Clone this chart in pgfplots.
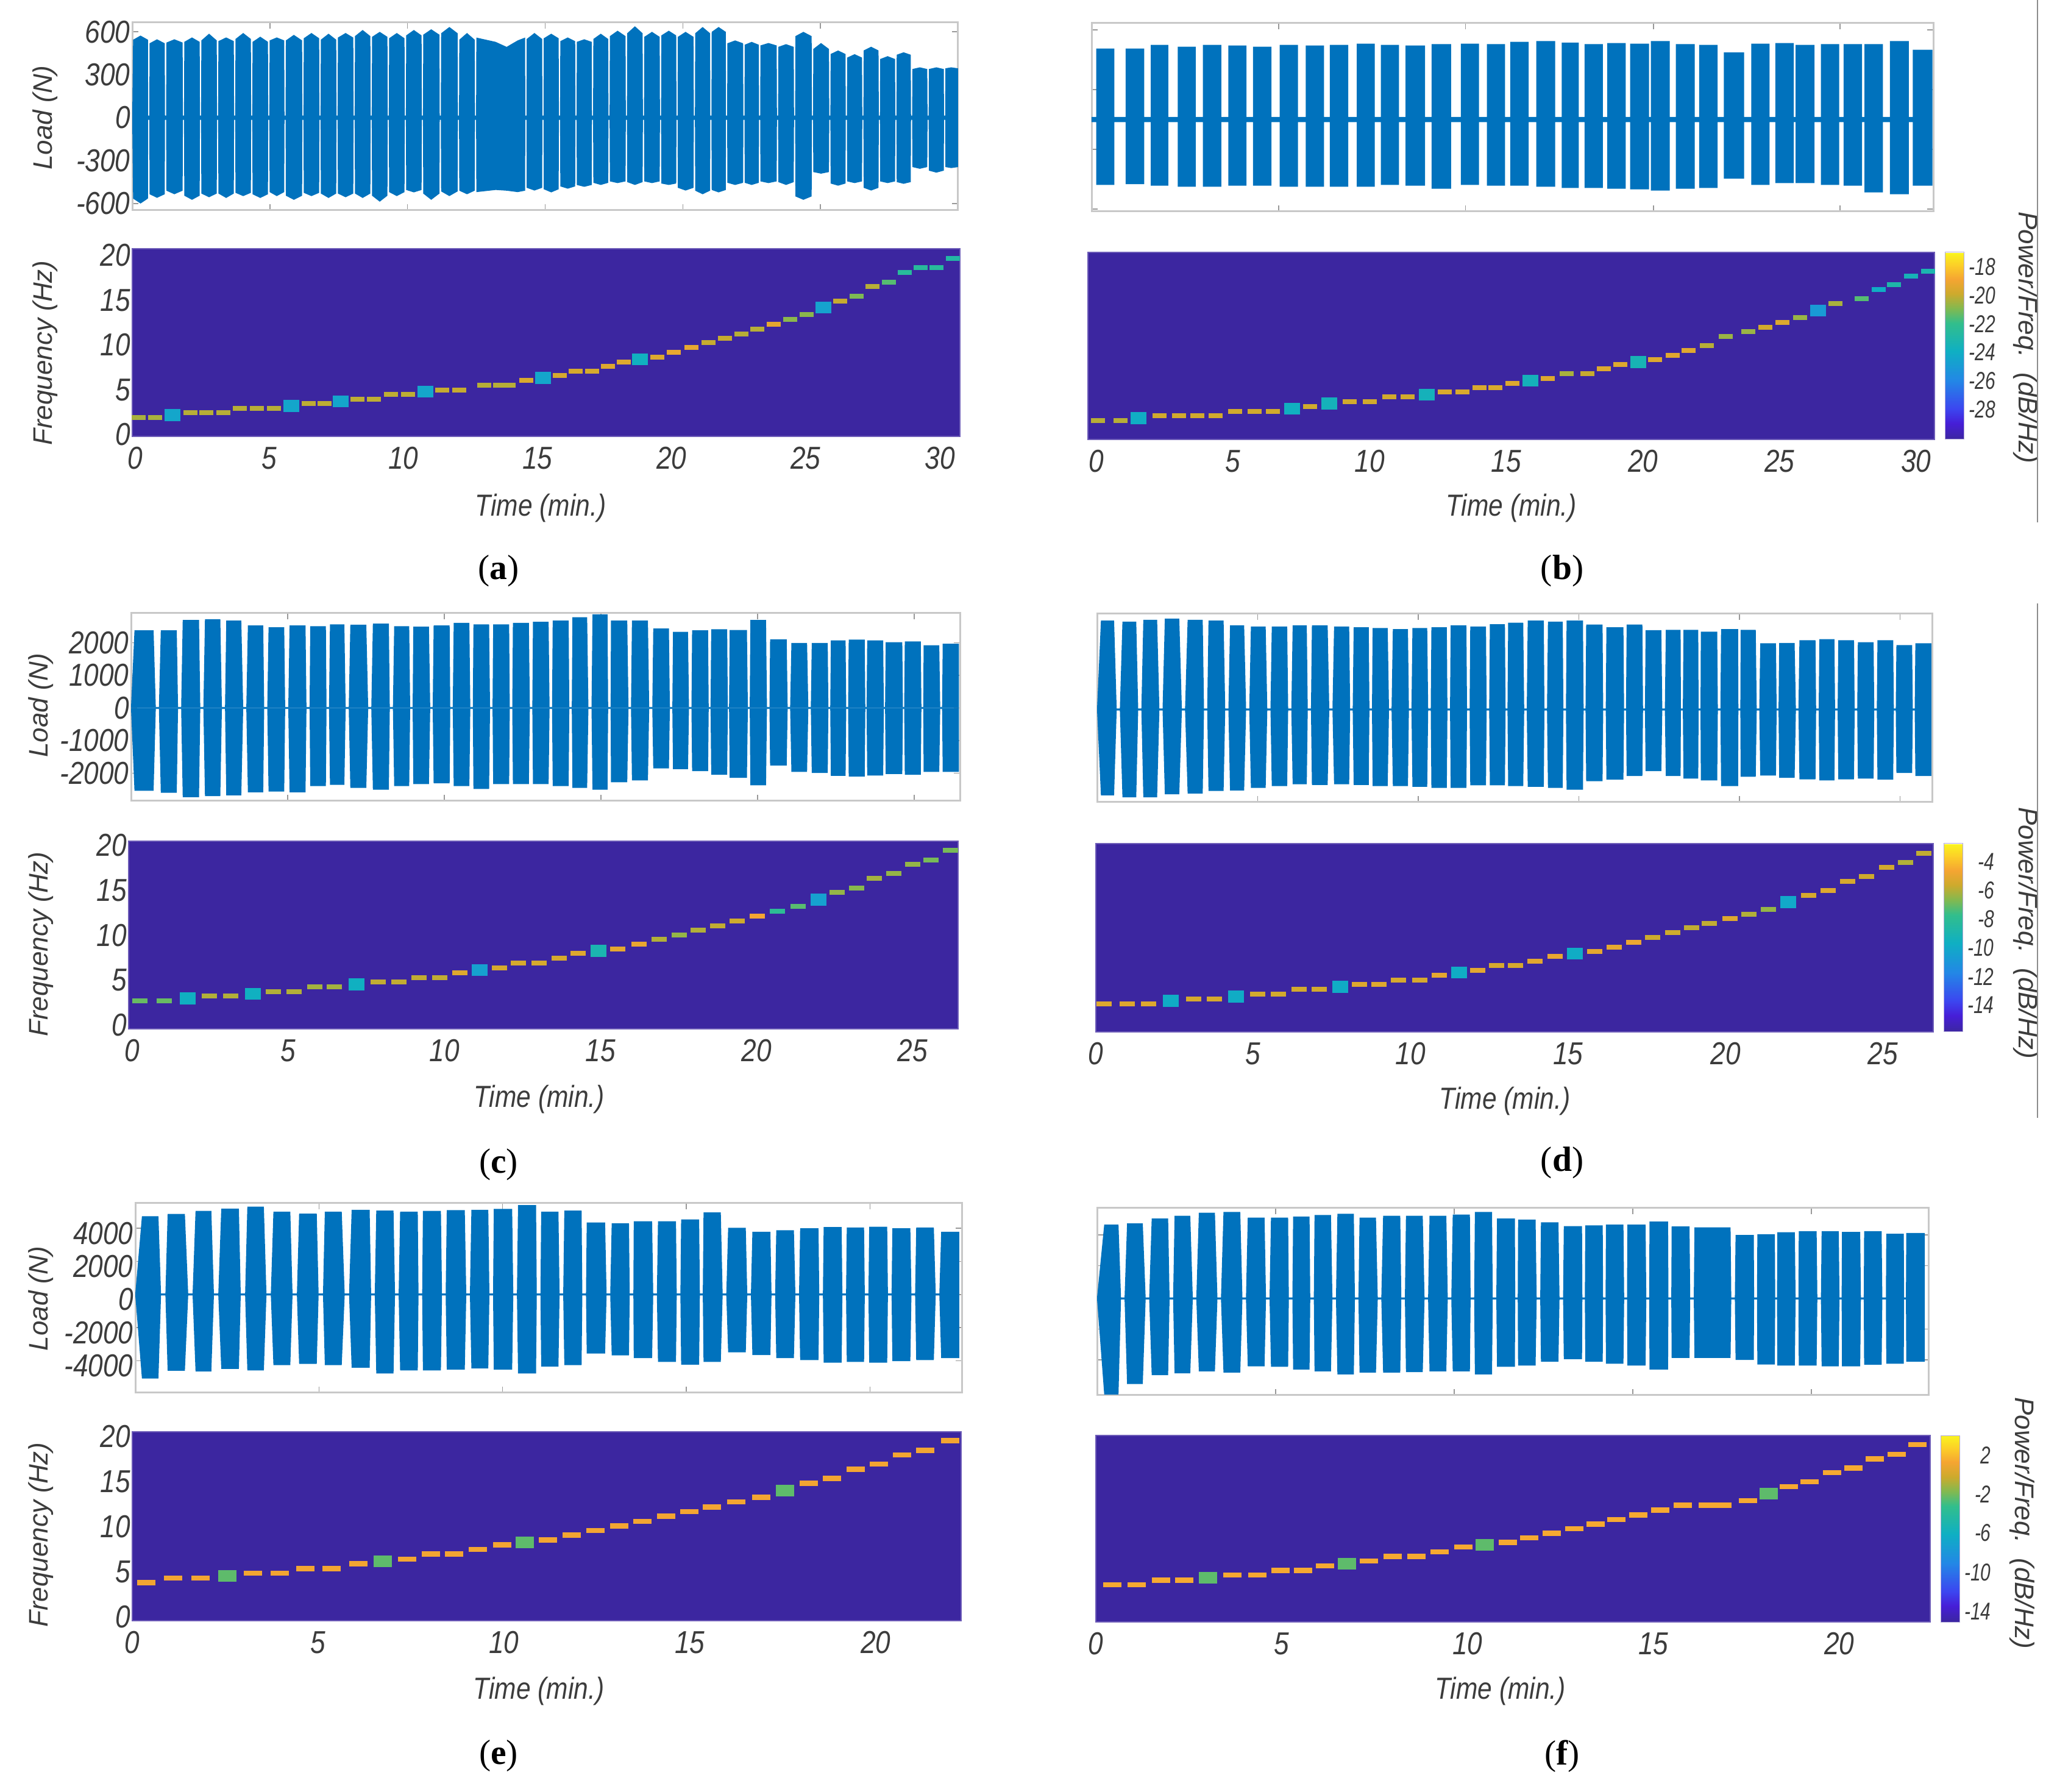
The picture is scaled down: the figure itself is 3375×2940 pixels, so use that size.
\documentclass[border=0pt]{standalone}
\usepackage{fontspec}
\setmainfont{Liberation Sans}
\newfontfamily\capfont{Liberation Serif}
\usepackage{pgfplots}
\usepackage{pgfplotstable}
\pgfplotsset{compat=1.18}
\pgfkeys{/pgf/number format/assume math mode=true,/pgf/number format/1000 sep={}}
\definecolor{sig}{RGB}{0,114,189}
\definecolor{specbg}{RGB}{60,38,160}
\definecolor{frame}{RGB}{200,200,200}
\definecolor{ink}{RGB}{60,60,60}
\newcommand\tickfont{\fontsize{10.4}{12}\selectfont\itshape}
\newcommand\lblfont{\fontsize{8.8}{10}\selectfont\itshape}
\newcommand\timefont{\fontsize{10}{12}\selectfont\itshape}
\newcommand\cbfont{\fontsize{8}{9}\selectfont\itshape}

% load envelopes: t, upper, lower
\pgfplotstableread[row sep=\\]{t hi lo\\
0 15 -15\\0.03 545 -565\\0.30 574 -600\\0.57 545 -565\\0.58 15 -15\\0.62 15 -15\\
0.63 520 -535\\0.90 548 -560\\1.18 520 -535\\1.19 15 -15\\1.23 15 -15\\
1.24 525 -510\\1.53 548 -535\\1.83 525 -510\\1.84 15 -15\\1.88 15 -15\\
1.89 530 -545\\2.17 561 -574\\2.45 530 -545\\2.46 15 -15\\2.50 15 -15\\
2.51 540 -530\\2.79 587 -556\\3.07 540 -530\\3.08 15 -15\\3.12 15 -15\\
3.13 535 -530\\3.41 561 -561\\3.69 535 -530\\3.70 15 -15\\3.74 15 -15\\
3.75 550 -525\\4.03 592 -548\\4.31 550 -525\\4.32 15 -15\\4.36 15 -15\\
4.37 530 -535\\4.65 566 -561\\4.93 530 -535\\4.94 15 -15\\4.98 15 -15\\
4.99 540 -520\\5.25 561 -548\\5.52 540 -520\\5.53 15 -15\\5.57 15 -15\\
5.58 540 -545\\5.87 579 -574\\6.17 540 -545\\6.18 15 -15\\6.22 15 -15\\
6.23 555 -525\\6.51 592 -548\\6.79 555 -525\\6.80 15 -15\\6.84 15 -15\\
6.85 545 -530\\7.13 587 -561\\7.41 545 -530\\7.42 15 -15\\7.46 15 -15\\
7.47 560 -530\\7.75 592 -556\\8.03 560 -530\\8.04 15 -15\\8.08 15 -15\\
8.09 570 -530\\8.37 613 -561\\8.65 570 -530\\8.66 15 -15\\8.70 15 -15\\
8.71 565 -545\\8.99 600 -587\\9.27 565 -545\\9.28 15 -15\\9.32 15 -15\\
9.33 555 -520\\9.61 592 -548\\9.89 555 -520\\9.90 15 -15\\9.94 15 -15\\
9.95 575 -505\\10.23 613 -522\\10.51 575 -505\\10.52 15 -15\\10.56 15 -15\\
10.57 580 -530\\10.86 618 -574\\11.16 580 -530\\11.17 15 -15\\11.21 15 -15\\
11.22 590 -515\\11.52 634 -548\\11.82 590 -515\\11.83 15 -15\\11.87 15 -15\\
11.88 545 -510\\12.16 592 -535\\12.44 545 -510\\12.45 15 -15\\12.49 15 -15\\
12.50 560 -520\\13.2 530 -505\\13.6 495 -510\\14.0 540 -520\\14.27 560 -510\\14.28 15 -15\\14.32 15 -15\\
14.33 550 -490\\14.61 592 -509\\14.89 550 -490\\14.90 15 -15\\14.94 15 -15\\
14.95 555 -500\\15.22 587 -522\\15.49 555 -500\\15.50 15 -15\\15.54 15 -15\\
15.55 535 -480\\15.82 561 -496\\16.09 535 -480\\16.10 15 -15\\16.14 15 -15\\
16.15 530 -470\\16.42 548 -483\\16.69 530 -470\\16.70 15 -15\\16.74 15 -15\\
16.75 550 -455\\17.02 587 -470\\17.29 550 -455\\17.30 15 -15\\17.34 15 -15\\
17.35 570 -445\\17.63 608 -457\\17.92 570 -445\\17.93 15 -15\\17.97 15 -15\\
17.98 590 -450\\18.26 639 -470\\18.54 590 -450\\18.55 15 -15\\18.59 15 -15\\
18.60 565 -445\\18.88 600 -457\\19.16 565 -445\\19.17 15 -15\\19.21 15 -15\\
19.22 575 -460\\19.49 608 -470\\19.76 575 -460\\19.77 15 -15\\19.81 15 -15\\
19.82 565 -490\\20.10 600 -509\\20.39 565 -490\\20.40 15 -15\\20.44 15 -15\\
20.45 590 -510\\20.72 634 -535\\20.99 590 -510\\21.00 15 -15\\21.04 15 -15\\
21.05 600 -505\\21.30 634 -522\\21.56 600 -505\\21.57 15 -15\\21.61 15 -15\\
21.62 520 -455\\21.90 540 -470\\22.19 520 -455\\22.20 15 -15\\22.24 15 -15\\
22.25 510 -455\\22.50 530 -470\\22.76 510 -455\\22.77 15 -15\\22.81 15 -15\\
22.82 505 -445\\23.11 522 -457\\23.41 505 -445\\23.42 15 -15\\23.46 15 -15\\
23.47 495 -450\\23.75 514 -470\\24.03 495 -450\\24.04 15 -15\\24.08 15 -15\\
24.09 570 -550\\24.38 600 -574\\24.68 570 -550\\24.69 15 -15\\24.73 15 -15\\
24.74 480 -380\\25.02 522 -391\\25.31 480 -380\\25.32 15 -15\\25.36 15 -15\\
25.37 445 -460\\25.64 470 -475\\25.91 445 -460\\25.92 15 -15\\25.96 15 -15\\
25.97 420 -445\\26.24 444 -457\\26.51 420 -445\\26.52 15 -15\\26.56 15 -15\\
26.57 470 -490\\26.84 496 -509\\27.11 470 -490\\27.12 15 -15\\27.16 15 -15\\
27.17 410 -445\\27.44 430 -457\\27.71 410 -445\\27.72 15 -15\\27.76 15 -15\\
27.77 440 -450\\28.02 457 -462\\28.28 440 -450\\28.29 15 -15\\28.33 15 -15\\
28.34 340 -345\\28.61 352 -357\\28.88 340 -345\\28.89 15 -15\\28.93 15 -15\\
28.94 340 -370\\29.21 352 -384\\29.48 340 -370\\29.49 15 -15\\29.53 15 -15\\
29.54 345 -345\\29.75 352 -352\\30 345 -345\\
}\loadA

\pgfplotstableread[row sep=\\]{t hi lo\\
0 18 -18\\0.17 18 -18\\0.17 494 -455\\0.83 494 -455\\0.83 18 -18\\1.24 18 -18\\1.24 494 -450\\1.92 494 -450\\1.92 18 -18\\
2.16 18 -18\\2.16 520 -460\\2.80 520 -460\\2.80 18 -18\\3.14 18 -18\\3.14 507 -468\\3.80 507 -468\\3.80 18 -18\\
4.06 18 -18\\4.06 520 -468\\4.73 520 -468\\4.73 18 -18\\4.99 18 -18\\4.99 515 -460\\5.65 515 -460\\5.65 18 -18\\
5.89 18 -18\\5.89 507 -460\\6.56 507 -460\\6.56 18 -18\\6.86 18 -18\\6.86 520 -468\\7.53 520 -468\\7.53 18 -18\\
7.81 18 -18\\7.81 515 -468\\8.48 515 -468\\8.48 18 -18\\8.69 18 -18\\8.69 520 -468\\9.36 520 -468\\9.36 18 -18\\
9.67 18 -18\\9.67 528 -468\\10.33 528 -468\\10.33 18 -18\\10.55 18 -18\\10.55 520 -455\\11.21 520 -455\\11.21 18 -18\\
11.45 18 -18\\11.45 515 -460\\12.16 515 -460\\12.16 18 -18\\12.40 18 -18\\12.40 525 -481\\13.11 525 -481\\13.11 18 -18\\
13.47 18 -18\\13.47 528 -455\\14.13 528 -455\\14.13 18 -18\\14.42 18 -18\\14.42 525 -460\\15.08 525 -460\\15.08 18 -18\\
15.27 18 -18\\15.27 541 -460\\15.94 541 -460\\15.94 18 -18\\16.22 18 -18\\16.22 546 -468\\16.91 546 -468\\16.91 18 -18\\
17.15 18 -18\\17.15 536 -476\\17.77 536 -476\\17.77 18 -18\\17.98 18 -18\\17.98 525 -476\\18.65 525 -476\\18.65 18 -18\\
18.81 18 -18\\18.81 533 -481\\19.48 533 -481\\19.48 18 -18\\19.64 18 -18\\19.64 528 -486\\20.33 528 -486\\20.33 18 -18\\
20.40 18 -18\\20.40 546 -494\\21.09 546 -494\\21.09 18 -18\\21.31 18 -18\\21.31 525 -481\\22.00 525 -481\\22.00 18 -18\\
22.16 18 -18\\22.16 520 -476\\22.83 520 -476\\22.83 18 -18\\23.06 18 -18\\23.06 468 -411\\23.80 468 -411\\23.80 18 -18\\
24.06 18 -18\\24.06 528 -455\\24.73 528 -455\\24.73 18 -18\\24.94 18 -18\\24.94 533 -442\\25.61 533 -442\\25.61 18 -18\\
25.68 18 -18\\25.68 520 -442\\26.37 520 -442\\26.37 18 -18\\26.60 18 -18\\26.60 525 -455\\27.27 525 -455\\27.27 18 -18\\
27.43 18 -18\\27.43 525 -460\\28.10 525 -460\\28.10 18 -18\\28.19 18 -18\\28.19 525 -507\\28.86 525 -507\\28.86 18 -18\\
29.12 18 -18\\29.12 546 -520\\29.81 546 -520\\29.81 18 -18\\29.95 18 -18\\29.95 486 -460\\30.67 486 -460\\
}\loadB

\pgfplotstableread[row sep=\\]{t hi lo\\
0 30 -30\\0.11 2377 -2537\\0.72 2377 -2537\\0.79 30 -30\\0.89 30 -30\\0.95 2377 -2595\\1.46 2377 -2595\\1.50 30 -30\\1.60 30 -30\\
1.65 2697 -2732\\2.17 2697 -2732\\2.21 30 -30\\2.31 30 -30\\2.36 2720 -2697\\2.85 2720 -2697\\2.90 30 -30\\3.00 30 -30\\
3.04 2675 -2675\\3.52 2675 -2675\\3.58 30 -30\\3.68 30 -30\\3.73 2526 -2583\\4.22 2526 -2583\\4.25 30 -30\\4.35 30 -30\\
4.39 2469 -2560\\4.89 2469 -2560\\4.92 30 -30\\5.02 30 -30\\5.06 2526 -2583\\5.57 2526 -2583\\5.60 30 -30\\5.70 30 -30\\
5.72 2503 -2389\\6.22 2503 -2389\\6.24 30 -30\\6.32 30 -30\\6.35 2560 -2355\\6.81 2560 -2355\\6.85 30 -30\\6.95 30 -30\\
7.00 2549 -2446\\7.51 2549 -2446\\7.57 30 -30\\7.67 30 -30\\7.72 2583 -2503\\8.23 2583 -2503\\8.26 30 -30\\8.36 30 -30\\
8.40 2503 -2389\\8.88 2503 -2389\\8.91 30 -30\\8.99 30 -30\\9.01 2492 -2332\\9.51 2492 -2332\\9.55 30 -30\\9.63 30 -30\\
9.66 2526 -2309\\10.17 2526 -2309\\10.19 30 -30\\10.27 30 -30\\10.30 2606 -2389\\10.80 2606 -2389\\10.83 30 -30\\10.91 30 -30\\
10.93 2560 -2480\\11.43 2560 -2480\\11.46 30 -30\\11.54 30 -30\\11.56 2560 -2332\\12.07 2560 -2332\\12.09 30 -30\\12.17 30 -30\\
12.19 2606 -2332\\12.70 2606 -2332\\12.73 30 -30\\12.81 30 -30\\12.83 2640 -2332\\13.33 2640 -2332\\13.36 30 -30\\13.44 30 -30\\
13.46 2675 -2389\\13.97 2675 -2389\\13.99 30 -30\\14.07 30 -30\\14.09 2777 -2446\\14.56 2777 -2446\\14.60 30 -30\\14.70 30 -30\\
14.73 2869 -2503\\15.21 2869 -2503\\15.23 30 -30\\15.31 30 -30\\15.32 2675 -2275\\15.84 2675 -2275\\15.88 30 -30\\15.96 30 -30\\
15.99 2675 -2217\\16.50 2675 -2217\\16.54 30 -30\\16.64 30 -30\\16.67 2435 -1852\\17.17 2435 -1852\\17.20 30 -30\\17.28 30 -30\\
17.30 2332 -1875\\17.78 2332 -1875\\17.81 30 -30\\17.89 30 -30\\17.91 2377 -1932\\18.42 2377 -1932\\18.44 30 -30\\18.50 30 -30\\
18.52 2412 -2046\\19.03 2412 -2046\\19.05 30 -30\\19.09 30 -30\\19.11 2389 -2137\\19.66 2389 -2137\\19.69 30 -30\\19.75 30 -30\\
19.77 2697 -2366\\20.27 2697 -2366\\20.30 30 -30\\20.38 30 -30\\20.40 2103 -1760\\20.93 2103 -1760\\20.96 30 -30\\21.04 30 -30\\
21.08 1989 -1955\\21.58 1989 -1955\\21.62 30 -30\\21.70 30 -30\\21.73 1989 -1989\\22.24 1989 -1989\\22.26 30 -30\\22.32 30 -30\\
22.34 2069 -2080\\22.81 2069 -2080\\22.83 30 -30\\22.89 30 -30\\22.91 2092 -2103\\23.42 2092 -2103\\23.44 30 -30\\23.48 30 -30\\
23.50 2069 -2069\\24.01 2069 -2069\\24.03 30 -30\\24.07 30 -30\\24.09 2012 -2023\\24.62 2012 -2023\\24.64 30 -30\\24.68 30 -30\\
24.70 2035 -2046\\25.21 2035 -2046\\25.23 30 -30\\25.29 30 -30\\25.30 1920 -1955\\25.80 1920 -1955\\25.83 30 -30\\25.89 30 -30\\
25.91 1966 -1955\\26.43 1966 -1955\\
}\loadC

\pgfplotstableread[row sep=\\]{t hi lo\\
0 30 -30\\0.12 2720 -2629\\0.53 2720 -2629\\0.61 30 -30\\0.71 30 -30\\0.79 2686 -2686\\1.22 2686 -2686\\1.28 30 -30\\1.38 30 -30\\
1.44 2743 -2686\\1.87 2743 -2686\\1.94 30 -30\\2.04 30 -30\\2.11 2777 -2595\\2.56 2777 -2595\\2.64 30 -30\\2.74 30 -30\\
2.82 2743 -2572\\3.29 2743 -2572\\3.33 30 -30\\3.43 30 -30\\3.47 2720 -2492\\3.94 2720 -2492\\3.99 30 -30\\4.09 30 -30\\
4.14 2572 -2480\\4.58 2572 -2480\\4.64 30 -30\\4.74 30 -30\\4.79 2537 -2400\\5.25 2537 -2400\\5.30 30 -30\\5.40 30 -30\\
5.44 2537 -2343\\5.92 2537 -2343\\5.95 30 -30\\6.05 30 -30\\6.09 2572 -2286\\6.53 2572 -2286\\6.56 30 -30\\6.66 30 -30\\
6.69 2572 -2309\\7.18 2572 -2309\\7.23 30 -30\\7.33 30 -30\\7.38 2537 -2286\\7.85 2537 -2286\\7.88 30 -30\\7.96 30 -30\\
7.99 2515 -2309\\8.46 2515 -2309\\8.48 30 -30\\8.56 30 -30\\8.58 2492 -2343\\9.05 2492 -2343\\9.09 30 -30\\9.17 30 -30\\
9.21 2457 -2343\\9.68 2457 -2343\\9.71 30 -30\\9.79 30 -30\\9.82 2492 -2366\\10.28 2492 -2366\\10.31 30 -30\\10.39 30 -30\\
10.41 2515 -2400\\10.89 2515 -2400\\10.91 30 -30\\10.99 30 -30\\11.01 2572 -2400\\11.50 2572 -2400\\11.52 30 -30\\11.60 30 -30\\
11.62 2537 -2320\\12.11 2537 -2320\\12.13 30 -30\\12.21 30 -30\\12.23 2606 -2320\\12.70 2606 -2320\\12.72 30 -30\\12.78 30 -30\\
12.80 2652 -2343\\13.27 2652 -2343\\13.30 30 -30\\13.38 30 -30\\13.41 2720 -2366\\13.91 2720 -2366\\13.93 30 -30\\14.01 30 -30\\
14.04 2686 -2400\\14.50 2686 -2400\\14.52 30 -30\\14.60 30 -30\\14.62 2720 -2457\\15.13 2720 -2457\\15.15 30 -30\\15.21 30 -30\\
15.23 2595 -2195\\15.74 2595 -2195\\15.76 30 -30\\15.84 30 -30\\15.86 2515 -2149\\16.39 2515 -2149\\16.41 30 -30\\16.47 30 -30\\
16.49 2595 -2035\\16.98 2595 -2035\\17.00 30 -30\\17.06 30 -30\\17.08 2423 -1886\\17.57 2423 -1886\\17.60 30 -30\\17.68 30 -30\\
17.71 2435 -2035\\18.17 2435 -2035\\18.18 30 -30\\18.24 30 -30\\18.26 2435 -2115\\18.72 2435 -2115\\18.73 30 -30\\18.79 30 -30\\
18.80 2377 -2172\\19.31 2377 -2172\\19.33 30 -30\\19.41 30 -30\\19.43 2457 -2343\\19.96 2457 -2343\\19.97 30 -30\\20.03 30 -30\\
20.04 2435 -2057\\20.51 2435 -2057\\20.54 30 -30\\20.62 30 -30\\20.65 2023 -2023\\21.14 2023 -2023\\21.16 30 -30\\21.22 30 -30\\
21.24 2035 -2092\\21.72 2035 -2092\\21.76 30 -30\\21.84 30 -30\\21.87 2115 -2137\\22.37 2115 -2137\\22.39 30 -30\\22.47 30 -30\\
22.49 2149 -2172\\22.96 2149 -2172\\22.98 30 -30\\23.06 30 -30\\23.08 2115 -2137\\23.57 2115 -2137\\23.59 30 -30\\23.67 30 -30\\
23.69 2057 -2115\\24.18 2057 -2115\\24.20 30 -30\\24.28 30 -30\\24.30 2115 -2149\\24.79 2115 -2149\\24.81 30 -30\\24.87 30 -30\\
24.89 1966 -1943\\25.38 1966 -1943\\25.40 30 -30\\25.46 30 -30\\25.48 2023 -2035\\25.98 2023 -2035\\
}\loadD

\pgfplotstableread[row sep=\\]{t hi lo\\
0 60 -60\\0.18 4722 -5071\\0.63 4722 -5071\\0.70 60 -60\\0.82 60 -60\\0.88 4861 -4605\\1.35 4861 -4605\\1.44 60 -60\\1.56 60 -60\\
1.64 5047 -4652\\2.07 5047 -4652\\2.14 60 -60\\2.26 60 -60\\2.34 5187 -4489\\2.82 5187 -4489\\2.87 60 -60\\2.99 60 -60\\
3.05 5303 -4582\\3.50 5303 -4582\\3.57 60 -60\\3.69 60 -60\\3.76 5001 -4257\\4.22 5001 -4257\\4.28 60 -60\\4.40 60 -60\\
4.46 4885 -4187\\4.94 4885 -4187\\4.99 60 -60\\5.11 60 -60\\5.16 5001 -4257\\5.62 5001 -4257\\5.70 60 -60\\5.82 60 -60\\
5.89 5117 -4419\\6.38 5117 -4419\\6.42 60 -60\\6.52 60 -60\\6.56 5071 -4768\\7.03 5071 -4768\\7.07 60 -60\\7.17 60 -60\\
7.21 5001 -4582\\7.69 5001 -4582\\7.71 60 -60\\7.81 60 -60\\7.83 5047 -4582\\8.32 5047 -4582\\8.35 60 -60\\8.45 60 -60\\
8.48 5094 -4536\\8.97 5094 -4536\\9.01 60 -60\\9.11 60 -60\\9.15 5117 -4466\\9.61 5117 -4466\\9.64 60 -60\\9.74 60 -60\\
9.76 5164 -4536\\10.26 5164 -4536\\10.29 60 -60\\10.39 60 -60\\10.42 5396 -4768\\10.91 5396 -4768\\10.93 60 -60\\11.03 60 -60\\
11.05 5001 -4350\\11.52 5001 -4350\\11.55 60 -60\\11.65 60 -60\\11.68 5071 -4257\\12.15 5071 -4257\\12.17 60 -60\\12.27 60 -60\\
12.29 4350 -3559\\12.79 4350 -3559\\12.83 60 -60\\12.93 60 -60\\12.97 4303 -3675\\13.44 4303 -3675\\13.46 60 -60\\13.56 60 -60\\
13.57 4419 -3838\\14.07 4419 -3838\\14.10 60 -60\\14.20 60 -60\\14.23 4419 -4071\\14.72 4419 -4071\\14.74 60 -60\\14.84 60 -60\\
14.86 4536 -4233\\15.35 4536 -4233\\15.37 60 -60\\15.45 60 -60\\15.47 4954 -4071\\15.94 4954 -4071\\15.99 60 -60\\16.09 60 -60\\
16.14 4024 -3489\\16.62 4024 -3489\\16.66 60 -60\\16.76 60 -60\\16.80 3791 -3652\\17.29 3791 -3652\\17.32 60 -60\\17.42 60 -60\\
17.45 3884 -3838\\17.93 3884 -3838\\17.97 60 -60\\18.07 60 -60\\18.10 4001 -3954\\18.60 4001 -3954\\18.62 60 -60\\18.72 60 -60\\
18.74 4071 -4117\\19.23 4071 -4117\\19.25 60 -60\\19.35 60 -60\\19.37 4047 -4071\\19.84 4047 -4071\\19.86 60 -60\\19.96 60 -60\\
19.98 4094 -4117\\20.47 4094 -4117\\20.49 60 -60\\20.59 60 -60\\20.61 4001 -4024\\21.10 4001 -4024\\21.13 60 -60\\21.23 60 -60\\
21.26 4047 -3954\\21.74 4047 -3954\\21.79 60 -60\\21.89 60 -60\\21.94 3791 -3838\\22.43 3791 -3838\\
}\loadE

\pgfplotstableread[row sep=\\]{t hi lo\\
0 60 -60\\0.20 4466 -5815\\0.60 4466 -5815\\0.67 60 -60\\0.77 60 -60\\0.84 4536 -5187\\1.28 4536 -5187\\1.36 60 -60\\1.46 60 -60\\
1.53 4838 -4652\\1.99 4838 -4652\\2.03 60 -60\\2.13 60 -60\\2.17 5001 -4536\\2.61 5001 -4536\\2.68 60 -60\\2.78 60 -60\\
2.85 5187 -4419\\3.30 5187 -4419\\3.37 60 -60\\3.47 60 -60\\3.54 5234 -4489\\4.01 5234 -4489\\4.07 60 -60\\4.17 60 -60\\
4.22 4885 -4117\\4.69 4885 -4117\\4.73 60 -60\\4.83 60 -60\\4.87 4885 -4140\\5.35 4885 -4140\\5.37 60 -60\\5.47 60 -60\\
5.49 4954 -4303\\5.95 4954 -4303\\5.97 60 -60\\6.07 60 -60\\6.09 5047 -4419\\6.55 5047 -4419\\6.59 60 -60\\6.69 60 -60\\
6.73 5117 -4605\\7.19 5117 -4605\\7.22 60 -60\\7.32 60 -60\\7.35 4885 -4489\\7.81 4885 -4489\\7.86 60 -60\\7.96 60 -60\\
8.01 5001 -4489\\8.49 5001 -4489\\8.52 60 -60\\8.62 60 -60\\8.65 5001 -4466\\9.12 5001 -4466\\9.17 60 -60\\9.27 60 -60\\
9.31 5001 -4419\\9.78 5001 -4419\\9.82 60 -60\\9.92 60 -60\\9.96 5071 -4419\\10.44 5071 -4419\\10.46 60 -60\\10.56 60 -60\\
10.58 5234 -4605\\11.06 5234 -4605\\11.08 60 -60\\11.18 60 -60\\11.20 4838 -4140\\11.70 4838 -4140\\11.71 60 -60\\11.78 60 -60\\
11.79 4768 -4071\\12.28 4768 -4071\\12.31 60 -60\\12.41 60 -60\\12.43 4605 -3838\\12.92 4605 -3838\\12.95 60 -60\\13.05 60 -60\\
13.07 4373 -3675\\13.58 4373 -3675\\13.59 60 -60\\13.66 60 -60\\13.67 4419 -3838\\14.16 4419 -3838\\14.17 60 -60\\14.24 60 -60\\
14.25 4466 -3954\\14.74 4466 -3954\\14.76 60 -60\\14.84 60 -60\\14.85 4466 -4071\\15.36 4466 -4071\\15.38 60 -60\\15.46 60 -60\\
15.47 4652 -4303\\15.99 4652 -4303\\16.00 60 -60\\16.08 60 -60\\16.09 4350 -3605\\16.59 4350 -3605\\16.61 60 -60\\16.71 60 -60\\
16.73 4303 -3605\\17.74 4303 -3605\\17.76 60 -60\\17.86 60 -60\\17.88 3838 -3722\\18.39 3838 -3722\\18.40 60 -60\\18.48 60 -60\\
18.49 3884 -4001\\18.98 3884 -4001\\18.99 60 -60\\19.04 60 -60\\19.05 4001 -4071\\19.54 4001 -4071\\19.56 60 -60\\19.64 60 -60\\
19.65 4071 -4071\\20.15 4071 -4071\\20.17 60 -60\\20.27 60 -60\\20.29 4071 -4117\\20.77 4071 -4117\\20.79 60 -60\\20.85 60 -60\\
20.86 4024 -4117\\21.37 4024 -4117\\21.39 60 -60\\21.47 60 -60\\21.48 4071 -4024\\21.97 4071 -4024\\21.99 60 -60\\22.09 60 -60\\
22.10 3908 -3954\\22.59 3908 -3954\\22.60 60 -60\\22.65 60 -60\\22.66 3954 -3838\\23.18 3954 -3838\\
}\loadF

% spectrogram ridges: t, frequency, power
\pgfplotstableread[row sep=\\]{t f p\\
0.12 1.88 -20.4\\0.74 1.88 -20.4\\2.05 2.42 -20.2\\2.66 2.42 -20.2\\3.28 2.42 -20.2\\3.89 2.92 -20.2\\4.54 2.92 -20.2\\5.18 2.92 -20.2\\
6.46 3.46 -20.1\\7.05 3.46 -20.1\\8.28 3.96 -20.1\\8.90 3.96 -20.1\\9.54 4.50 -20.1\\10.18 4.50 -20.1\\11.44 5.00 -20.0\\12.08 5.00 -20.0\\
13.01 5.54 -20.2\\13.61 5.54 -20.2\\13.93 5.54 -20.2\\14.59 6.04 -19.6\\15.82 6.58 -19.7\\16.42 7.08 -19.7\\17.03 7.08 -19.7\\17.62 7.63 -19.5\\18.22 8.13 -19.5\\
19.47 8.67 -19.5\\20.09 9.17 -19.2\\20.73 9.71 -19.2\\21.37 10.25 -20.0\\21.99 10.75 -20.0\\22.60 11.25 -20.2\\23.19 11.79 -20.2\\23.81 12.33 -19.3\\24.43 12.88 -20.8\\25.04 13.38 -20.8\\
26.28 14.92 -20.0\\26.89 15.46 -21.0\\27.48 16.54 -20.2\\28.10 17.04 -21.5\\28.69 18.08 -22.5\\29.28 18.63 -22.5\\29.87 18.63 -22.5\\30.49 19.67 -22.8\\
}\specA
\pgfplotstableread[row sep=\\]{t f p\\
1.40 2.17 -24.4\\5.82 3.21 -24.4\\7.67 3.71 -24.4\\10.82 4.79 -24.4\\15.21 6.33 -24.4\\18.83 8.42 -23.8\\25.66 14.17 -24.6\\
}\specAb

\pgfplotstableread[row sep=\\]{t f p\\
0.05 1.93 -20.2\\0.88 1.93 -20.2\\2.31 2.47 -19.8\\3.03 2.47 -19.8\\3.69 2.47 -19.8\\4.36 2.47 -19.8\\5.08 2.97 -19.8\\5.79 2.97 -19.8\\6.46 2.97 -19.8\\
7.82 3.51 -19.8\\9.27 4.06 -19.8\\10.01 4.06 -19.8\\10.72 4.56 -19.8\\11.39 4.56 -19.8\\12.75 5.10 -19.6\\13.39 5.10 -19.6\\14.03 5.60 -19.6\\14.61 5.60 -19.6\\15.23 6.10 -19.5\\
16.51 6.64 -19.5\\17.20 7.15 -20.4\\17.97 7.15 -20.0\\18.58 7.69 -19.5\\19.18 8.19 -19.5\\20.44 8.73 -19.5\\21.09 9.23 -19.4\\21.68 9.78 -19.4\\22.33 10.28 -20.2\\23.04 11.36 -20.6\\
23.85 11.86 -20.6\\24.47 12.36 -19.8\\25.11 12.91 -19.5\\25.76 13.45 -20.6\\27.04 14.99 -20.4\\28.00 15.58 -21.5\\28.62 16.58 -24.0\\29.19 17.12 -23.0\\29.81 18.12 -23.5\\30.43 18.66 -23.2\\
}\specB
\pgfplotstableread[row sep=\\]{t f p\\
1.55 2.18 -24.0\\7.17 3.26 -23.8\\8.53 3.81 -23.6\\12.08 4.81 -23.6\\15.89 6.39 -23.6\\19.82 8.48 -23.4\\26.42 14.24 -25.0\\
}\specBb

\pgfplotstableread[row sep=\\]{t f p\\
0.25 2.70 -7.0\\1.02 2.70 -7.0\\2.46 3.24 -6.0\\3.16 3.24 -6.0\\4.51 3.73 -6.0\\5.19 3.73 -6.0\\5.85 4.27 -6.2\\6.48 4.27 -6.2\\7.88 4.81 -5.8\\8.54 4.81 -5.8\\
9.19 5.31 -5.8\\9.85 5.31 -5.8\\10.49 5.85 -5.2\\11.76 6.39 -5.4\\12.37 6.93 -5.4\\13.03 6.93 -5.4\\13.67 7.47 -5.4\\14.28 7.97 -5.2\\15.55 8.51 -5.0\\16.23 9.05 -4.9\\
16.89 9.54 -6.0\\17.52 10.04 -6.4\\18.14 10.58 -6.0\\18.75 11.08 -5.8\\19.39 11.62 -5.6\\20.02 12.16 -4.6\\20.66 12.66 -8.0\\21.33 13.20 -7.2\\22.58 14.77 -6.4\\23.20 15.27 -6.6\\
23.77 16.31 -6.2\\24.39 16.85 -6.4\\25.00 17.88 -6.4\\25.59 18.38 -6.8\\26.21 19.42 -6.8\\
}\specC
\pgfplotstableread[row sep=\\]{t f p\\
1.78 2.99 -9.6\\3.86 3.49 -9.6\\7.18 4.56 -9.6\\11.12 6.14 -10.4\\14.94 8.26 -9.0\\21.99 13.98 -10.4\\
}\specCb

\pgfplotstableread[row sep=\\]{t f p\\
0.27 2.74 -5.2\\0.99 2.74 -5.2\\1.68 2.74 -5.2\\3.10 3.28 -5.4\\3.77 3.28 -5.4\\5.13 3.81 -5.5\\5.79 3.81 -5.5\\6.46 4.31 -5.5\\7.10 4.31 -5.5\\
8.38 4.85 -5.2\\9.00 4.85 -5.2\\9.62 5.34 -5.4\\10.29 5.34 -5.4\\10.91 5.88 -5.0\\12.13 6.42 -5.1\\12.73 6.96 -5.4\\13.33 6.96 -5.4\\13.95 7.45 -5.1\\14.59 7.99 -4.9\\
15.85 8.53 -5.0\\16.47 9.02 -5.0\\17.09 9.56 -4.8\\17.69 10.10 -5.6\\18.32 10.59 -5.6\\18.92 11.13 -5.8\\19.49 11.62 -5.8\\20.14 12.16 -5.2\\20.74 12.66 -6.0\\21.36 13.19 -6.4\\
22.64 14.72 -5.4\\23.26 15.26 -5.2\\23.88 16.29 -5.4\\24.48 16.79 -5.6\\25.12 17.82 -5.5\\25.72 18.36 -6.0\\26.30 19.39 -5.8\\
}\specD
\pgfplotstableread[row sep=\\]{t f p\\
2.38 3.03 -9.8\\4.45 3.53 -9.8\\7.76 4.60 -9.8\\11.53 6.17 -9.8\\15.21 8.28 -9.8\\22.00 13.98 -10.0\\
}\specDb

\pgfplotstableread[row sep=\\]{t f p\\
0.37 3.80 1.2\\1.10 4.32 1.2\\1.83 4.32 1.2\\3.25 4.87 1.2\\3.96 4.87 1.2\\4.66 5.38 1.2\\5.37 5.38 1.2\\6.08 5.90 1.2\\7.40 6.41 1.2\\8.04 6.97 1.2\\8.66 6.97 1.2\\
9.30 7.48 1.2\\9.96 7.99 1.2\\11.18 8.55 1.2\\11.82 9.06 1.2\\12.46 9.57 1.2\\13.10 10.09 1.2\\13.72 10.60 1.2\\14.36 11.15 1.2\\14.99 11.67 1.2\\15.59 12.18 1.2\\
16.25 12.74 1.2\\16.92 13.25 1.2\\18.20 14.79 1.2\\18.83 15.34 1.2\\19.47 16.37 1.2\\20.09 16.92 1.2\\20.71 17.95 1.2\\21.33 18.46 1.2\\22.01 19.53 1.2\\
}\specE
\pgfplotstableread[row sep=\\]{t f p\\
2.56 4.57 -2.4\\6.74 6.15 -2.4\\10.56 8.25 -2.4\\17.56 14.02 -2.4\\
}\specEb

\pgfplotstableread[row sep=\\]{t f p\\
0.44 3.77 1.4\\1.10 3.77 1.4\\1.75 4.29 1.4\\2.37 4.29 1.4\\3.68 4.85 1.4\\4.35 4.85 1.4\\4.97 5.36 1.4\\5.57 5.36 1.4\\6.16 5.88 1.4\\7.35 6.44 1.4\\7.99 6.95 1.4\\
8.62 6.95 1.4\\9.25 7.47 1.4\\9.88 7.99 1.4\\11.08 8.50 1.4\\11.66 9.02 1.4\\12.27 9.54 1.4\\12.88 10.05 1.4\\13.44 10.57 1.4\\14.01 11.08 1.4\\14.59 11.60 1.4\\15.18 12.12 1.4\\
15.79 12.68 1.4\\16.46 12.68 1.4\\16.86 12.68 1.4\\17.54 13.19 1.4\\18.64 14.78 1.4\\19.21 15.30 1.4\\19.81 16.33 1.4\\20.38 16.85 1.4\\20.96 17.88 1.4\\21.55 18.40 1.4\\22.11 19.47 1.4\\
}\specF
\pgfplotstableread[row sep=\\]{t f p\\
3.02 4.55 -2.4\\6.75 6.14 -2.4\\10.47 8.25 -2.4\\18.10 13.97 -2.4\\
}\specFb

\pgfplotsset{
  colormap={par}{rgb255(0cm)=(60,38,160) rgb255(1.2cm)=(70,30,215) rgb255(2.3cm)=(60,70,240)
    rgb255(4.4cm)=(35,135,230) rgb255(6.6cm)=(15,175,195) rgb255(8.7cm)=(50,190,140)
    rgb255(9.8cm)=(130,185,80) rgb255(10.9cm)=(205,170,45) rgb255(12cm)=(245,165,50)
    rgb255(13cm)=(252,205,40) rgb255(14cm)=(250,245,30)},
  pxbox/.style n args={4}{at={({#1*0.2pt},{-#4*0.2pt})},anchor=south west,scale only axis,
    width={(#3-#1)*0.2pt},height={(#4-#2)*0.2pt}},
  common/.style={tick label style={font=\tickfont,text=ink,xscale=0.85},
    yticklabel style={inner sep=0.6pt},xticklabel style={inner sep=3.3pt}},
  loadax/.style={common,axis line style={draw=frame,line width=0.6pt},
    tick style={draw=black!40,line width=0.3pt},major tick length=2pt,tick align=inside,
    xticklabels={},xtick pos=both},
  specax/.style={common,axis background/.style={fill=specbg},axis line style={draw=specbg!75!white,line width=0.4pt},
    major tick length=0pt,tick style={draw=none},colormap name=par,
    xtick={0,5,...,30}},
  ylab/.style n args={2}{every axis y label/.style={at={(rel axis cs:0,0.5)},anchor=center,
    xshift=#1,yshift=#2,rotate=90,font=\lblfont,text=ink}},
  timelab/.style n args={2}{xlabel={Time (min.)},every axis x label/.style={at={(rel axis cs:0.5,0)},
    anchor=center,xshift=#1,yshift=#2,font=\timefont,text=ink,xscale=0.85}},
  bar/.style n args={2}{colorbar,colorbar shift/.style={xshift=3.4pt},
    colorbar style={at={(parent axis.north east)},anchor=north west,width=6.2pt,
      ytick={#1},yticklabels={#2},yticklabel pos=right,
      yticklabel style={font=\cbfont,text=ink,xscale=0.88,anchor=east,xshift=14pt,inner sep=0pt},
      tick style={draw=none},axis line style={draw=specbg!40!white,line width=0.2pt}}},
  blue/.style={fill=sig,draw=none},
  ridge/.style n args={2}{scatter,only marks,mark=-,mark size=#1,mark options={line width=#2},
    scatter src=explicit,scatter/use mapped color={draw=mapped color,fill=mapped color}},
}

\begin{document}
\begin{tikzpicture}[x=0.2pt,y=-0.2pt]
\useasboundingbox (0,0) rectangle (3375,2940);

% (a)
\begin{axis}[loadax,pxbox={217}{37}{1572}{345},xmin=0,xmax=30,ymin=-647,ymax=665,
    xtick={5,10,...,30},ytick={-600,-300,0,300,600},ylab={-28.6pt}{-0.4pt},ylabel={Load (N)}]
\addplot[blue] table[x=t,y=hi]{\loadA}\closedcycle;
\addplot[blue] table[x=t,y=lo]{\loadA}\closedcycle;
\end{axis}
\begin{axis}[specax,pxbox={217}{408}{1575}{716},xmin=-0.11,xmax=30.75,ymin=-0.2,ymax=20.75,
    ytick={0,5,10,15,20},point meta min=-30.1,point meta max=-17,
    ylab={-28.6pt}{-3.4pt},ylabel={Frequency (Hz)},timelab={-1.8pt}{-23.6pt}]
\addplot[ridge={2.3pt}{1.6pt}] table[x=t,y=f,meta=p]{\specA};
\addplot[ridge={2.6pt}{3.9pt}] table[x=t,y=f,meta=p]{\specAb};
\end{axis}

% (b)
\begin{axis}[loadax,pxbox={1791}{38}{3172}{347},xmin=0,xmax=30.7,ymin=-640,ymax=671,
    xtick={6.82,13.64,20.5,27.3},ytick={-624,-208,208,624},yticklabels={}]
\addplot[blue] table[x=t,y=hi]{\loadB}\closedcycle;
\addplot[blue] table[x=t,y=lo]{\loadB}\closedcycle;
\end{axis}
\begin{axis}[specax,pxbox={1785}{414}{3174}{721},xmin=-0.31,xmax=30.67,ymin=-0.2,ymax=20.75,
    ytick=\empty,point meta min=-30.1,point meta max=-17,timelab={0pt}{-22.6pt},
    bar={-28,-26,-24,-22,-20,-18}{-28,-26,-24,-22,-20,-18}]
\addplot[ridge={2.3pt}{1.6pt}] table[x=t,y=f,meta=p]{\specB};
\addplot[ridge={2.6pt}{3.9pt}] table[x=t,y=f,meta=p]{\specBb};
\end{axis}

% (c)
\begin{axis}[loadax,pxbox={215}{1006}{1575}{1314},xmin=0,xmax=26.46,ymin=-2846,ymax=2903,
    xtick={5,10,...,25},ytick={-2000,-1000,0,1000,2000},ylab={-29.6pt}{0.6pt},ylabel={Load (N)}]
\addplot[blue] table[x=t,y=hi]{\loadC}\closedcycle;
\addplot[blue] table[x=t,y=lo]{\loadC}\closedcycle;
\end{axis}
\begin{axis}[specax,pxbox={211}{1380}{1572}{1688},xmin=-0.12,xmax=26.46,ymin=-0.4,ymax=20.47,
    ytick={0,5,10,15,20},point meta min=-15.87,point meta max=-2.72,
    ylab={-28.8pt}{-3pt},ylabel={Frequency (Hz)},timelab={-1.4pt}{-23.2pt}]
\addplot[ridge={2.5pt}{1.6pt}] table[x=t,y=f,meta=p]{\specC};
\addplot[ridge={2.6pt}{3.9pt}] table[x=t,y=f,meta=p]{\specCb};
\end{axis}

% (d)
\begin{axis}[loadax,pxbox={1800}{1007}{3170}{1316},xmin=0,xmax=26,ymin=-2835,ymax=2926,
    xtick={5,10,...,25},ytick=\empty]
\addplot[blue] table[x=t,y=hi]{\loadD}\closedcycle;
\addplot[blue] table[x=t,y=lo]{\loadD}\closedcycle;
\end{axis}
\begin{axis}[specax,pxbox={1798}{1384}{3172}{1693},xmin=0,xmax=26.6,ymin=-0.4,ymax=20.47,
    ytick=\empty,point meta min=-15.87,point meta max=-2.72,timelab={-3.2pt}{-22.8pt},
    bar={-14,-12,-10,-8,-6,-4}{-14,-12,-10,-8,-6,-4}]
\addplot[ridge={2.5pt}{1.6pt}] table[x=t,y=f,meta=p]{\specD};
\addplot[ridge={2.6pt}{3.9pt}] table[x=t,y=f,meta=p]{\specDb};
\end{axis}

% (e)
\begin{axis}[loadax,pxbox={222}{1974}{1578}{2285},xmin=0,xmax=22.5,ymin=-5931,ymax=5513,
    xtick={5,10,15,20},ytick={-4000,-2000,0,2000,4000},yticklabel style={yshift=-1.6pt},
    ylab={-31pt}{-0.2pt},ylabel={Load (N)}]
\addplot[blue] table[x=t,y=hi]{\loadE}\closedcycle;
\addplot[blue] table[x=t,y=lo]{\loadE}\closedcycle;
\end{axis}
\begin{axis}[specax,pxbox={217}{2349}{1577}{2659},xmin=0,xmax=22.3,ymin=-0.4,ymax=20.5,
    ytick={0,5,10,15,20},point meta min=-15.1,point meta max=4,
    ylab={-30pt}{-2.8pt},ylabel={Frequency (Hz)},timelab={-2.6pt}{-23.2pt}]
\addplot[ridge={3pt}{1.7pt}] table[x=t,y=f,meta=p]{\specE};
\addplot[ridge={3pt}{3.8pt}] table[x=t,y=f,meta=p]{\specEb};
\end{axis}

% (f)
\begin{axis}[loadax,pxbox={1800}{1982}{3164}{2289},xmin=0,xmax=23.28,ymin=-5861,ymax=5466,
    xtick={5,10,15,20},ytick={-3723,-1860,1977,3838},yticklabels={}]
\addplot[blue] table[x=t,y=hi]{\loadF}\closedcycle;
\addplot[blue] table[x=t,y=lo]{\loadF}\closedcycle;
\end{axis}
\begin{axis}[specax,pxbox={1798}{2355}{3167}{2661},xmin=0,xmax=22.45,ymin=-0.4,ymax=20.5,
    ytick=\empty,point meta min=-15.1,point meta max=4,timelab={-4.2pt}{-22.8pt},
    bar={-14,-10,-6,-2,2}{-14,-10,-6,-2,2}]
\addplot[ridge={3pt}{1.7pt}] table[x=t,y=f,meta=p]{\specF};
\addplot[ridge={3pt}{3.8pt}] table[x=t,y=f,meta=p]{\specFb};
\end{axis}

% captions, colourbar titles, page rules
\foreach \x/\y/\s in {818/937/a,2563/937/b,818/1911/c,2563/1908/d,818/2881/e,2563/2881/f}
  \node[font=\capfont\fontsize{11.5}{13}\selectfont] at (\x,\y) {(\textbf{\s})};
\foreach \x/\y in {3324/554,3324/1531,3318/2499}
  \node[font=\lblfont,text=ink,rotate=-90] at (\x,\y) {Power/Freq.\ \ (dB/Hz)};
\draw[black!45,line width=0.3pt] (3343,0) -- (3343,857);
\draw[black!45,line width=0.3pt] (3343,990) -- (3343,1834);
\end{tikzpicture}
\end{document}
